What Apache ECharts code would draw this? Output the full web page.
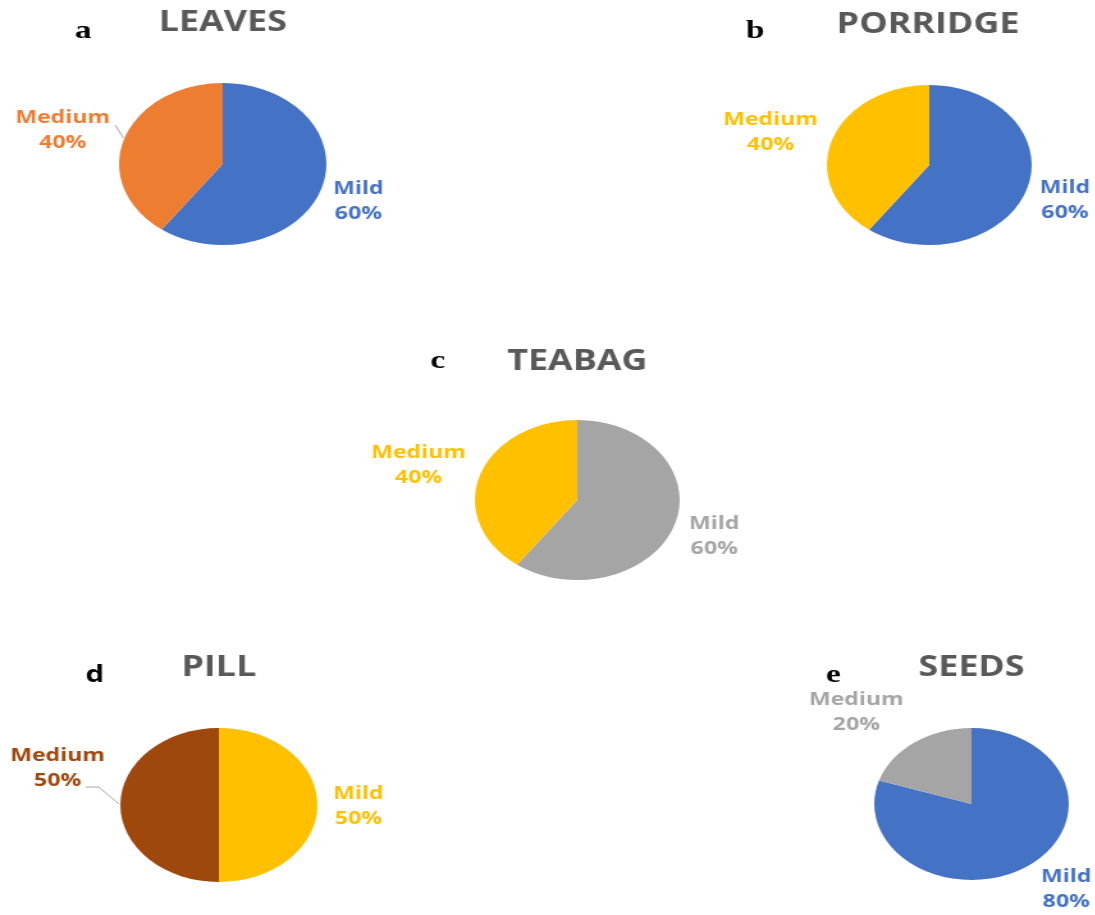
<!DOCTYPE html>
<html>
<head>
<meta charset="utf-8">
<title>Pie panels</title>
<script src="https://cdn.jsdelivr.net/npm/echarts@6/dist/echarts.min.js"></script>
<style>
  html, body { margin: 0; padding: 0; background: #fff; overflow: hidden; }
  /* the source figure is stretched horizontally, so the whole chart is drawn narrow and scaled */
  #main { width: 856px; height: 915px; transform: scaleX(1.28); transform-origin: 0 0; }
</style>
</head>
<body>
<div id="main"></div>
<script>
const categories = ['Mild', 'Medium']
const chartTitles = ['LEAVES', 'PORRIDGE', 'TEABAG', 'PILL', 'SEEDS']
const panelLetters = ['a', 'b', 'c', 'd', 'e']

const leavesValues = [60, 40]
const porridgeValues = [60, 40]
const teabagValues = [60, 40]
const pillValues = [50, 50]
const seedsValues = [80, 20]
const allValues = [leavesValues, porridgeValues, teabagValues, pillValues, seedsValues]

// colours of [Mild, Medium] per panel
const sliceColors = [
  ['#4472C4', '#ED7D31'],
  ['#4472C4', '#FFC000'],
  ['#A5A5A5', '#FFC000'],
  ['#FFC000', '#9E480E'],
  ['#4472C4', '#A5A5A5']
]

// layout in unscaled px
const panels = [
  { center: [174, 164], r: 81, title: [174, 9], letter: [65, 31], letterFont: 'serif',
    labels: [[280, 201], [49, 130]], line: [null, [[90, 125], [96.5, 138]]] },
  { center: [726, 165], r: 80, title: [725, 11], letter: [590, 31], letterFont: 'serif',
    labels: [[832, 200], [602, 132]], line: [null, null] },
  { center: [451, 500], r: 80, title: [451, 348], letter: [342, 361.5], letterFont: 'serif',
    labels: [[558, 536], [327, 465]], line: [null, null] },
  { center: [171, 805], r: 77, title: [171, 654], letter: [74, 675], letterFont: 'sans',
    labels: [[280, 806], [45, 768]], line: [null, [[67, 787], [77, 787], [93, 804]]] },
  { center: [759, 804], r: 76, title: [759, 654], letter: [651, 675], letterFont: 'serif',
    labels: [[833, 889], [669, 712]], line: [null, null] }
]

const chart = echarts.init(document.getElementById('main'))

const series = allValues.map((vals, i) => {
  const p = panels[i]
  return {
    type: 'pie',
    center: p.center,
    radius: p.r,
    startAngle: 90,
    clockwise: true,
    avoidLabelOverlap: false,
    silent: true,
    animation: false,
    label: {
      show: true,
      position: 'outside',
      formatter: '{b}\n{c}%',
      color: 'inherit',
      fontFamily: 'Open Sans',
      fontWeight: 'bold',
      fontSize: 18,
      lineHeight: 25
    },
    labelLine: { show: false, lineStyle: { color: '#A6A6A6', width: 1 } },
    labelLayout: function(params) {
      const pos = p.labels[params.dataIndex]
      const out = { x: pos[0], y: pos[1], align: 'center', verticalAlign: 'middle' }
      if (p.line[params.dataIndex]) out.labelLinePoints = p.line[params.dataIndex]
      return out
    },
    data: vals.map((v, j) => ({
      name: categories[j],
      value: v,
      itemStyle: { color: sliceColors[i][j] },
      labelLine: { show: !!p.line[j] }
    }))
  }
})

chart.setOption({
  animation: false,
  title: chartTitles.map((t, i) => ({
    text: t,
    left: panels[i].title[0],
    top: panels[i].title[1],
    textAlign: 'center',
    padding: 0,
    textStyle: { fontFamily: 'Open Sans', fontWeight: 'bold', fontSize: 28, color: '#595959' }
  })),
  graphic: panelLetters.map((l, i) => ({
    type: 'text',
    x: panels[i].letter[0],
    y: panels[i].letter[1],
    style: {
      text: l,
      fill: '#000',
      font: panels[i].letterFont === 'serif' ? 'bold 26px "Liberation Serif"' : 'bold 23px "Open Sans"',
      textAlign: 'center',
      textVerticalAlign: 'middle'
    }
  })),
  series: series
})
</script>
</body>
</html>
